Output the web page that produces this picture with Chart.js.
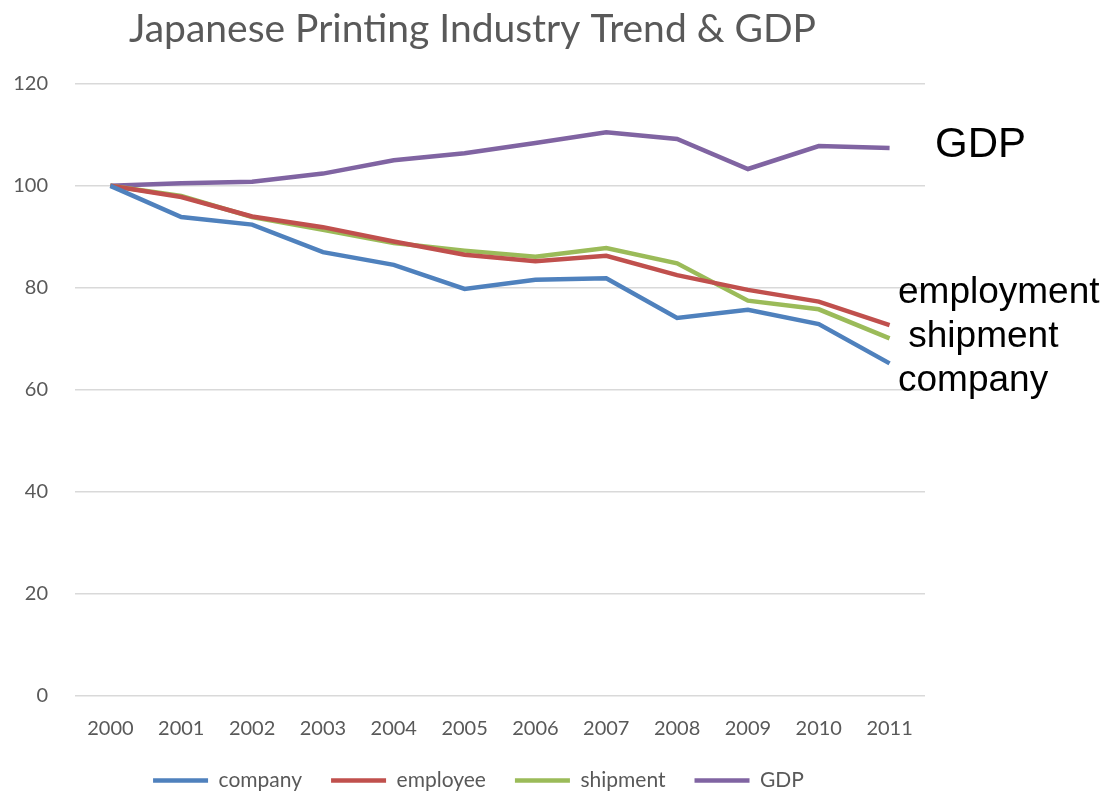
<!DOCTYPE html>
<html>
<head>
<meta charset="utf-8">
<script src="https://cdn.jsdelivr.net/npm/chart.js@4/dist/chart.umd.min.js"></script>
<style>
  html, body { margin: 0; padding: 0; background: #fff; }
  #wrap { width: 1109px; height: 793px; }
</style>
</head>
<body>
<div id="wrap"><canvas id="trend"></canvas></div>
<script>
// index, 2000 = 100
const years = ['2000', '2001', '2002', '2003', '2004', '2005', '2006', '2007', '2008', '2009', '2010', '2011'];
const company = [100, 93.9, 92.4, 87.0, 84.5, 79.8, 81.6, 81.9, 74.1, 75.7, 72.9, 65.2];
const employee = [100, 97.8, 94.0, 91.9, 89.1, 86.5, 85.2, 86.3, 82.5, 79.6, 77.3, 72.7];
const shipment = [100, 98.0, 93.9, 91.4, 88.8, 87.3, 86.1, 87.8, 84.8, 77.5, 75.8, 70.1];
const gdp = [100, 100.5, 100.8, 102.4, 105.0, 106.4, 108.4, 110.5, 109.2, 103.3, 107.8, 107.4];
const yTicks = [0, 20, 40, 60, 80, 100, 120];

// captions written to the right of the plot
const sideNotes = [
  { text: 'GDP', dx: 10, y: 145, size: 42 },
  { text: 'employment', dx: -27, y: 293, size: 37 },
  { text: ' shipment', dx: -27, y: 337, size: 37 },
  { text: 'company', dx: -27, y: 381, size: 37 }
];

const gray = '#595959';
const uiFont = 'Lato, "Open Sans", sans-serif';

const sideNotesPlugin = {
  id: 'sideNotes',
  afterLayout(chart) {
    // title and legend centred a bit right of the default
    if (chart.titleBlock) {
      chart.titleBlock.left += 10;
      chart.titleBlock.right += 10;
    }
    if (chart.legend) {
      chart.legend.left += 16;
      chart.legend.right += 16;
    }
  },
  afterDraw(chart) {
    const ctx = chart.ctx;
    const right = chart.chartArea.right;
    ctx.save();
    ctx.fillStyle = '#000';
    ctx.textBaseline = 'middle';
    ctx.textAlign = 'left';
    sideNotes.forEach(n => {
      ctx.font = n.size + 'px "Liberation Sans", Arial, sans-serif';
      ctx.fillText(n.text, right + n.dx, n.y);
    });
    ctx.restore();
  }
};

function line(label, data, color) {
  return {
    label: label,
    data: data,
    borderColor: color,
    backgroundColor: color,
    borderWidth: 4.5,
    pointRadius: 0,
    tension: 0,
    fill: false
  };
}

new Chart(document.getElementById('trend'), {
  type: 'line',
  data: {
    labels: years,
    datasets: [
      line('company', company, '#4f81bd'),
      line('employee', employee, '#c0504d'),
      line('shipment', shipment, '#9bbb59'),
      line('GDP', gdp, '#8064a2')
    ]
  },
  options: {
    responsive: true,
    maintainAspectRatio: false,
    animation: false,
    // legend sits a little lower than the default layout allows
    layout: { padding: { left: 0, right: 184, top: 0, bottom: -8 } },
    plugins: {
      title: {
        display: true,
        text: 'Japanese Printing Industry Trend & GDP',
        color: gray,
        font: { family: uiFont, size: 39, weight: 'normal' },
        padding: { top: 6, bottom: 31 }
      },
      legend: {
        position: 'bottom',
        labels: {
          color: gray,
          font: { family: uiFont, size: 21 },
          usePointStyle: true,
          pointStyleWidth: 55,
          pointStyle: 'line',
          padding: 29
        }
      },
      tooltip: { enabled: false }
    },
    scales: {
      x: {
        offset: true,
        afterFit(scale) { scale.height = 45; },
        grid: { display: false },
        border: { display: false },
        ticks: { color: gray, font: { family: uiFont, size: 20 }, padding: 13, maxRotation: 0 }
      },
      y: {
        min: 0,
        max: 120,
        afterBuildTicks(scale) {
          scale.ticks = yTicks.map(v => ({ value: v }));
        },
        afterFit(scale) { scale.width = 75; },
        grid: { color: '#d9d9d9', lineWidth: 1.5, drawTicks: false },
        border: { display: false },
        ticks: { color: gray, font: { family: uiFont, size: 20 }, padding: 27 }
      }
    }
  },
  plugins: [sideNotesPlugin]
});
</script>
</body>
</html>
